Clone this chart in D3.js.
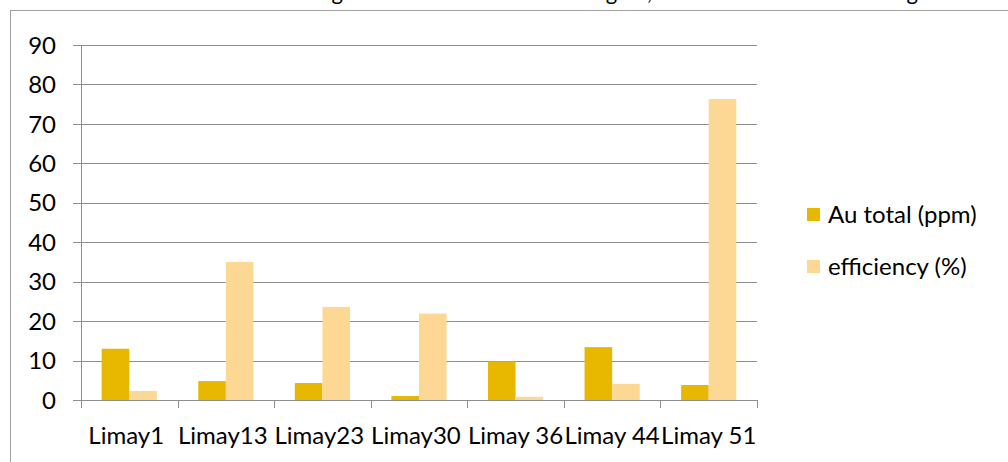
<!DOCTYPE html>
<html>
<head>
<meta charset="utf-8">
<script src="https://cdn.jsdelivr.net/npm/d3@7"></script>
<style>
  html, body { margin: 0; padding: 0; background: #fff; }
  svg { display: block; font-family: Lato, "Open Sans", sans-serif; }
</style>
</head>
<body>
<svg id="chart" width="1008" height="462"></svg>
<script>
// Sample labels (trailing spaces kept as in the workbook)
const categories = ["Limay1 ", "Limay13 ", "Limay23 ", "Limay30 ", "Limay 36", "Limay 44", "Limay 51"];
// Series values
const auTotal = [13.0, 4.8, 4.3, 1.0, 9.8, 13.4, 3.8];
const efficiency = [2.3, 35.0, 23.6, 21.9, 0.8, 4.1, 76.3];
const seriesNames = ["Au total (ppm)", "efficiency (%)"];
const seriesColors = ["#E8B700", "#FDD895"];
const yTicks = [0, 10, 20, 30, 40, 50, 60, 70, 80, 90];

const svg = d3.select("#chart");
const plot = { left: 81, right: 757, top: 45, bottom: 400 };
const grid = "#8e8e8e";
const fontSize = 24;

// Title line above the chart frame (only its lower edge falls inside the page)
const titleParts = [
  { text: "Total Au content before washing", x: 343 },
  { text: " and the recovered share of gold,", x: 652 },
  { text: " with the chemical leaching", x: 918 }
];
svg.append("g").selectAll("text").data(titleParts).join("text")
  .attr("x", d => d.x).attr("y", 0)
  .attr("text-anchor", "end")
  .attr("font-size", 22).attr("fill", "#000")
  .style("white-space", "pre")
  .text(d => d.text);

// Chart frame
svg.append("rect")
  .attr("x", 10.5).attr("y", 10.5)
  .attr("width", 1100).attr("height", 600)
  .attr("fill", "none").attr("stroke", "#a0a0a0").attr("stroke-width", 1);

const x = d3.scaleBand().domain(categories).range([plot.left, plot.right]).padding(0);
const y = d3.scaleLinear().domain([0, 90]).range([plot.bottom, plot.top]);

// Gap width 150%: two bars plus 1.5 bar-widths of gap per category
const barW = x.bandwidth() / 3.5;
const x1 = d3.scaleBand().domain([0, 1]).range([barW * 0.75, barW * 2.75]).padding(0);

// Horizontal gridlines and y tick marks
svg.append("g").selectAll("line").data(yTicks.slice(1)).join("line")
  .attr("x1", plot.left - 8).attr("x2", plot.right)
  .attr("y1", d => Math.round(y(d)) + 0.5).attr("y2", d => Math.round(y(d)) + 0.5)
  .attr("stroke", grid).attr("stroke-width", 1);

// Bars
const groups = svg.append("g").selectAll("g").data(categories).join("g")
  .attr("transform", d => `translate(${x(d)},0)`);
groups.selectAll("rect")
  .data((d, i) => [auTotal[i], efficiency[i]])
  .join("rect")
  .attr("x", (d, j) => x1(j))
  .attr("width", x1.bandwidth())
  .attr("y", d => y(d))
  .attr("height", d => y(0) - y(d))
  .attr("fill", (d, j) => seriesColors[j]);

// Axis lines
const axisG = svg.append("g");
axisG.append("line")
  .attr("x1", plot.left + 0.5).attr("x2", plot.left + 0.5)
  .attr("y1", plot.top).attr("y2", plot.bottom + 8)
  .attr("stroke", grid);
axisG.append("line")
  .attr("x1", plot.left - 8).attr("x2", plot.right + 0.5)
  .attr("y1", plot.bottom + 0.5).attr("y2", plot.bottom + 0.5)
  .attr("stroke", grid);
// Category boundary ticks
const boundaries = categories.map(c => x(c)).concat([plot.right]);
axisG.selectAll("line.tick").data(boundaries.slice(1)).join("line")
  .attr("class", "tick")
  .attr("x1", d => Math.round(d) + 0.5).attr("x2", d => Math.round(d) + 0.5)
  .attr("y1", plot.bottom).attr("y2", plot.bottom + 8)
  .attr("stroke", grid);

// Y labels
svg.append("g").selectAll("text").data(yTicks).join("text")
  .attr("x", 56).attr("y", d => y(d))
  .attr("dy", "0.36em")
  .attr("text-anchor", "end")
  .attr("font-size", fontSize).attr("fill", "#000")
  .text(d => d);

// X labels
svg.append("g").selectAll("text").data(categories).join("text")
  .attr("x", d => x(d) + x.bandwidth() / 2).attr("y", 444)
  .attr("text-anchor", "middle")
  .attr("font-size", fontSize).attr("fill", "#000")
  .style("white-space", "pre")
  .text(d => d);

// Legend
const legend = svg.append("g").selectAll("g").data(seriesNames).join("g")
  .attr("transform", (d, i) => `translate(807,${208 + i * 52})`);
legend.append("rect").attr("width", 13).attr("height", 13)
  .attr("fill", (d, i) => seriesColors[i]);
legend.append("text").attr("x", 21).attr("y", 15)
  .attr("font-size", fontSize).attr("fill", "#000")
  .text(d => d);
</script>
</body>
</html>
